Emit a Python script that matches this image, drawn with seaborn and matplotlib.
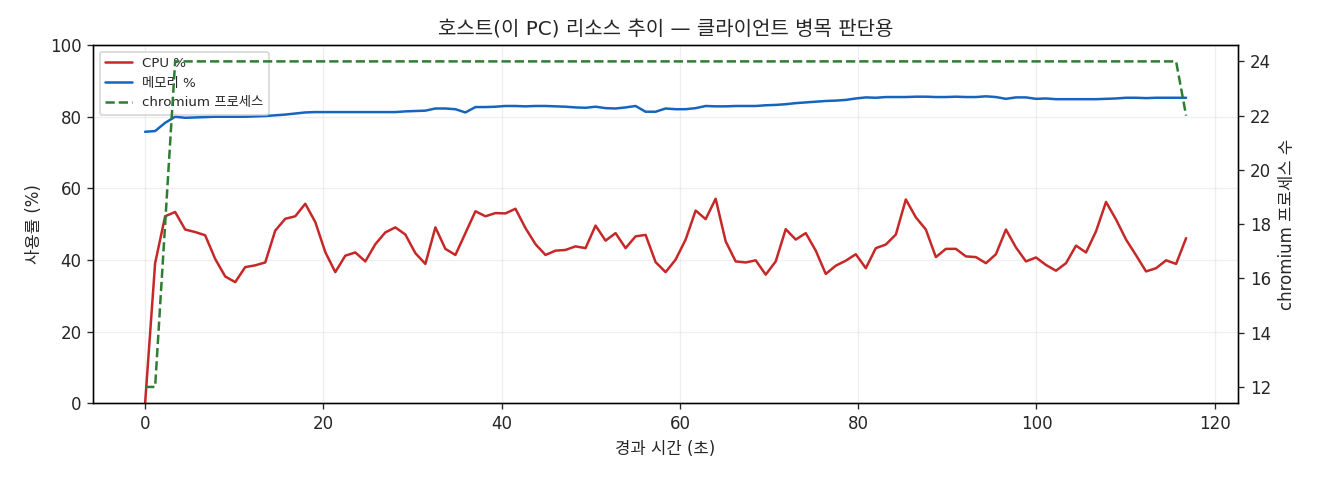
import numpy as np
import pandas as pd
import matplotlib
matplotlib.use("Agg")
import matplotlib.pyplot as plt
import seaborn as sns

# ---- data ----
dt = 1.123
cpu = [0.0, 39.1, 52.2, 53.4, 48.5, 47.8, 46.9, 40.3, 35.4, 33.8,
       38.0, 38.5, 39.3, 48.2, 51.5, 52.2, 55.7, 50.6, 42.2, 36.6,
       41.2, 42.1, 39.6, 44.4, 47.7, 49.1, 47.1, 41.9, 38.9, 49.1,
       43.1, 41.4, 47.5, 53.6, 52.2, 53.1, 53.0, 54.3, 48.9, 44.4,
       41.4, 42.6, 42.8, 43.8, 43.3, 49.6, 45.4, 47.5, 43.3, 46.6,
       47.0, 39.4, 36.6, 40.1, 45.7, 53.8, 51.4, 57.1, 45.2, 39.6,
       39.3, 39.9, 35.9, 39.6, 48.6, 45.7, 47.5, 42.6, 36.1, 38.4,
       39.8, 41.6, 37.7, 43.3, 44.3, 47.1, 56.9, 51.9, 48.5, 40.8,
       43.1, 43.1, 41.0, 40.8, 39.1, 41.6, 48.5, 43.5, 39.6, 40.7,
       38.6, 37.0, 39.1, 44.0, 42.1, 48.0, 56.2, 51.3, 45.7, 41.3,
       36.8, 37.7, 39.9, 38.9, 46.1]
mem = [75.8, 76.0, 78.3, 80.0, 79.7, 79.8, 79.9, 80.0, 80.0, 80.0,
       80.0, 80.1, 80.2, 80.4, 80.6, 80.9, 81.2, 81.3, 81.3, 81.3,
       81.3, 81.3, 81.3, 81.3, 81.3, 81.3, 81.5, 81.6, 81.7, 82.3,
       82.3, 82.1, 81.2, 82.7, 82.7, 82.8, 83.0, 83.0, 82.9, 83.0,
       83.0, 82.9, 82.8, 82.6, 82.5, 82.8, 82.4, 82.3, 82.6, 83.0,
       81.4, 81.4, 82.3, 82.1, 82.1, 82.4, 83.0, 82.9, 82.9, 83.0,
       83.0, 83.0, 83.2, 83.3, 83.5, 83.8, 84.0, 84.2, 84.4, 84.5,
       84.7, 85.1, 85.4, 85.3, 85.5, 85.5, 85.5, 85.6, 85.6, 85.5,
       85.5, 85.6, 85.5, 85.5, 85.7, 85.5, 85.0, 85.4, 85.4, 85.0,
       85.1, 84.9, 84.9, 84.9, 84.9, 84.9, 85.0, 85.1, 85.3, 85.3,
       85.2, 85.3, 85.3, 85.3, 85.3]
procs = [12, 12, 18, 24] + [24] * 100 + [22]

t = np.arange(len(cpu)) * dt
df = pd.DataFrame({"t": t, "cpu": cpu, "mem": mem, "procs": procs})

# ---- plot ----
sns.set_style("ticks")
plt.rcParams["font.family"] = ["DejaVu Sans", "Noto Sans CJK KR"]
plt.rcParams["axes.unicode_minus"] = False

fig, ax = plt.subplots(figsize=(11, 4), dpi=120)
fig.subplots_adjust(left=0.0705, right=0.938, top=0.906, bottom=0.160)

sns.lineplot(data=df, x="t", y="cpu", ax=ax, color="#c62828", lw=1.5,
             label="CPU %", legend=False)
sns.lineplot(data=df, x="t", y="mem", ax=ax, color="#1565c0", lw=1.5,
             label="메모리 %", legend=False)
ax.set_ylim(0, 100)
ax.set_xlabel("경과 시간 (초)", fontsize=10)
ax.set_ylabel("사용률 (%)", fontsize=10)
ax.grid(True, alpha=0.3)
ax.set_title("호스트(이 PC) 리소스 추이 — 클라이언트 병목 판단용", fontsize=12)

ax2 = ax.twinx()
sns.lineplot(data=df, x="t", y="procs", ax=ax2, color="#2e7d32", lw=1.5,
             linestyle="--", label="chromium 프로세스", legend=False)
ax2.set_ylabel("chromium 프로세스 수", fontsize=10)
ax2.set_yticks([12, 14, 16, 18, 20, 22, 24])

for a in (ax, ax2):
    for s in a.spines.values():
        s.set_visible(True)
        s.set_color("black")

h1 = ax.get_lines()
h2 = ax2.get_lines()
handles = list(h1) + list(h2)
ax.legend(handles, [h.get_label() for h in handles], loc="upper left", fontsize=8)

fig.savefig("out.png", dpi=120)
